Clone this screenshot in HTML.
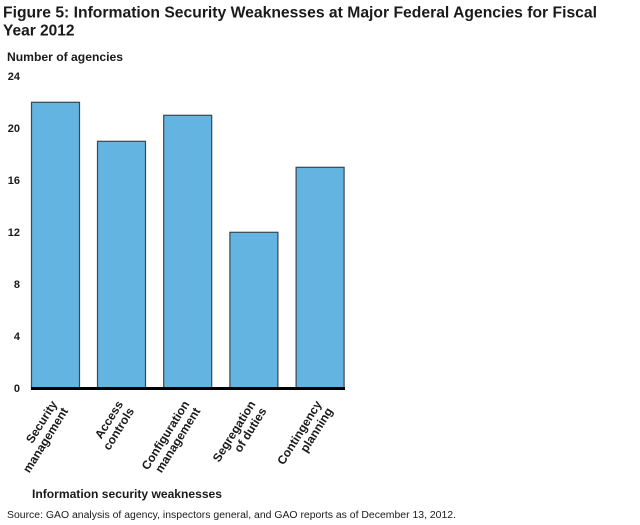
<!DOCTYPE html>
<html>
<head>
<meta charset="utf-8">
<style>
  html, body { margin: 0; padding: 0; background: #ffffff; }
  body { width: 640px; height: 525px; overflow: hidden; }
  svg { display: block; }
  text { font-family: "Liberation Sans", Arial, sans-serif; fill: #1a1a1a; }
  .b { font-weight: bold; }
</style>
</head>
<body>
<svg width="640" height="525" viewBox="0 0 640 525" xmlns="http://www.w3.org/2000/svg">
  <rect x="0" y="0" width="640" height="525" fill="#ffffff"/>

  <!-- Title -->
  <text class="b" x="3" y="17.5" font-size="15.5" textLength="594" lengthAdjust="spacingAndGlyphs">Figure 5: Information Security Weaknesses at Major Federal Agencies for Fiscal</text>
  <text class="b" x="3" y="35.5" font-size="15.5">Year 2012</text>

  <!-- Y axis title -->
  <text class="b" x="7" y="61" font-size="12" textLength="116" lengthAdjust="spacingAndGlyphs">Number of agencies</text>

  <!-- Y tick labels -->
  <g class="b" font-size="11" text-anchor="end">
    <text x="20" y="80">24</text>
    <text x="20" y="132">20</text>
    <text x="20" y="184">16</text>
    <text x="20" y="236">12</text>
    <text x="20" y="288">8</text>
    <text x="20" y="340">4</text>
    <text x="20" y="392">0</text>
  </g>

  <!-- Bars -->
  <g fill="#64b4e2" stroke="#3a4650" stroke-width="1.2">
    <rect x="31.5" y="102.3" width="48" height="286"/>
    <rect x="97.5" y="141.3" width="48" height="247"/>
    <rect x="163.7" y="115.3" width="48" height="273"/>
    <rect x="229.9" y="232.3" width="48" height="156"/>
    <rect x="296.1" y="167.3" width="48" height="221"/>
  </g>

  <!-- Baseline -->
  <rect x="31" y="387" width="314" height="3" fill="#000000"/>

  <!-- Category labels (rotated) -->
  <g class="b" font-size="12" text-anchor="end">
    <g transform="translate(57.5,404) rotate(-58)">
      <text x="0" y="0">Security</text>
      <text x="0" y="13">management</text>
    </g>
    <g transform="translate(123.5,404) rotate(-58)">
      <text x="0" y="0">Access</text>
      <text x="0" y="13">controls</text>
    </g>
    <g transform="translate(189.7,404) rotate(-58)">
      <text x="0" y="0">Configuration</text>
      <text x="0" y="13">management</text>
    </g>
    <g transform="translate(255.9,404) rotate(-58)">
      <text x="0" y="0">Segregation</text>
      <text x="0" y="13">of duties</text>
    </g>
    <g transform="translate(322.1,404) rotate(-58)">
      <text x="0" y="0">Contingency</text>
      <text x="0" y="13">planning</text>
    </g>
  </g>

  <!-- X axis title -->
  <text class="b" x="32" y="498" font-size="12" textLength="190" lengthAdjust="spacingAndGlyphs">Information security weaknesses</text>

  <!-- Source -->
  <text x="7" y="518" font-size="10" textLength="449" lengthAdjust="spacingAndGlyphs">Source: GAO analysis of agency, inspectors general, and GAO reports as of December 13, 2012.</text>
</svg>
</body>
</html>
